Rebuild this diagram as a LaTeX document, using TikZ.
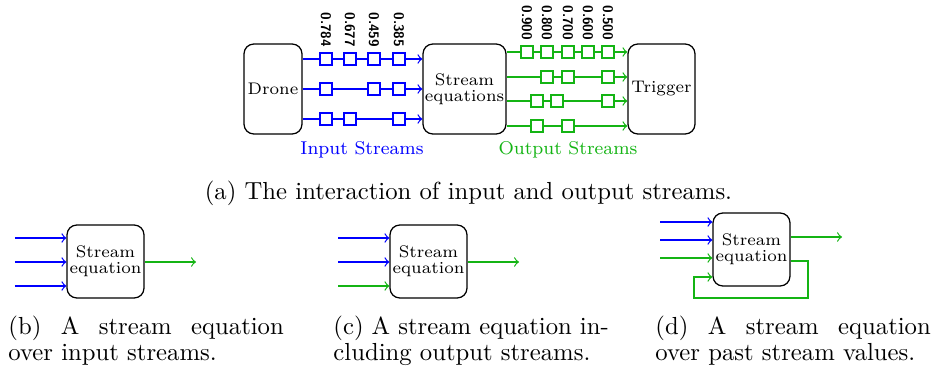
\documentclass[tikz,border=0pt]{standalone}
\usetikzlibrary{calc}
\definecolor{ig}{RGB}{20,180,20}
\definecolor{ib}{RGB}{0,0,255}
\begin{document}
\begin{tikzpicture}[x=0.405pt,y=-0.405pt,
 box/.style={draw,rounded corners=4pt,line width=0.5pt,inner sep=0pt,align=center,font=\fontsize{6.8}{6.5}\selectfont},
 bigbox/.style={box,minimum height={90*0.405pt}},
 smallbox/.style={box,minimum width={77*0.405pt},minimum height={73*0.405pt}},
 sq/.style={draw,fill=white,minimum size={12*0.405pt},inner sep=0pt,line width=0.5pt},
 bsq/.style={sq,draw=ib},
 gsq/.style={sq,draw=ig},
 bl/.style={ib,line width=0.5pt,->},
 gr/.style={ig,line width=0.5pt,->},
 val/.style={rotate=-90,anchor=west,inner sep=0pt,font=\fontsize{5.6}{6.5}\selectfont\sffamily\bfseries},
 lab/.style={anchor=base,inner sep=0pt,font=\fontsize{7.5}{9}\selectfont},
 captext/.style={anchor=base west,inner sep=0pt,font=\normalsize}]

\useasboundingbox (0,0) rectangle (934,373);

% ---------- (a) ----------
\node[bigbox,minimum width={58*0.405pt}] (drone) at (273,89) {Drone};
\node[bigbox,minimum width={83*0.405pt}] (seq) at (464.5,89) {Stream\\equations};
\node[bigbox,minimum width={67*0.405pt}] (trig) at (661.5,89) {Trigger};

\foreach \n/\y in {1/59,2/89,3/119} \coordinate (i\n) at (0,\y);
\foreach \n/\y in {1/52,2/77,3/101,4/126} \coordinate (o\n) at (0,\y);

\foreach \n in {1,2,3} \draw[bl] (drone.east |- i\n) -- (seq.west |- i\n);
\foreach \n in {1,2,3,4} \draw[gr] (seq.east |- o\n) -- (trig.west |- o\n);

\foreach \x in {326,350,374,399} \node[bsq] (sa\x) at (\x,59) {};
\foreach \x in {326,374,399} \node[bsq] (sb\x) at (\x,89) {};
\foreach \x in {326,350,399} \node[bsq] (sc\x) at (\x,119) {};

\foreach \x in {527,547,568,588,608} \node[gsq] (ta\x) at (\x,52) {};
\foreach \x in {547,568,608} \node[gsq] (tb\x) at (\x,77) {};
\foreach \x in {537,557,608} \node[gsq] (tc\x) at (\x,101) {};
\foreach \x in {537,568} \node[gsq] (td\x) at (\x,126) {};

\node[val] (v1) at (326,12) {0.784};
\node[val] (v2) at (350,12) {0.677};
\node[val] (v3) at (374,12) {0.459};
\node[val] (v4) at (399,12) {0.385};

\node[val] (w1) at (527,5) {0.900};
\node[val] (w2) at (547,5) {0.800};
\node[val] (w3) at (568,5) {0.700};
\node[val] (w4) at (588,5) {0.600};
\node[val] (w5) at (608,5) {0.500};

\node[lab,text=ib] (inl) at (362,155) {Input Streams};
\node[lab,text=ig] (outl) at (568,155) {Output Streams};

\node[anchor=base,inner sep=0pt] (capa) at (468.5,200) {(a) The interaction of input and output streams.};

% ---------- (b) ----------
\node[smallbox] (bbox) at (105.5,261.5) {Stream\\equation};
\foreach \n/\y in {1/238,2/262,3/286} \coordinate (bi\n) at (15,\y);
\foreach \n in {1,2,3} \draw[bl] (bi\n) -- (bbox.west |- bi\n);
\coordinate (bo) at (196,262);
\draw[gr] (bbox.east |- bo) -- (bo);
\node[captext] (capb1) at (8,335) {\hbox to 111.5pt{(b) A stream equation}};
\node[captext] (capb2) at (8,360) {over input streams.};

% ---------- (c) ----------
\node[smallbox] (cbox) at (428.5,261.5) {Stream\\equation};
\foreach \n/\y in {1/238,2/262,3/286} \coordinate (ci\n) at (338,\y);
\draw[bl] (ci1) -- (cbox.west |- ci1);
\draw[bl] (ci2) -- (cbox.west |- ci2);
\draw[gr] (ci3) -- (cbox.west |- ci3);
\coordinate (co) at (519,262);
\draw[gr] (cbox.east |- co) -- (co);
\node[captext] (capc1) at (333,335) {\hbox to 111.5pt{(c) A stream equation in-}};
\node[captext] (capc2) at (333,360) {cluding output streams.};

% ---------- (d) ----------
\node[smallbox] (dbox) at (751.5,249.5) {Stream\\equation};
\foreach \n/\y in {1/222,2/240,3/258} \coordinate (di\n) at (660,\y);
\draw[bl] (di1) -- (dbox.west |- di1);
\draw[bl] (di2) -- (dbox.west |- di2);
\draw[gr] (di3) -- (dbox.west |- di3);
\coordinate (do) at (842,237);
\draw[gr] (dbox.east |- do) -- (do);
\coordinate (dl0) at (0,261);
\coordinate (dl1) at (808,298);
\coordinate (dl2) at (694,298);
\coordinate (dl3) at (0,277);
\draw[gr] (dbox.east |- dl0) -| (dl1) -- (dl2) |- (dbox.west |- dl3);
\node[captext] (capd1) at (655,335) {\hbox to 111.5pt{(d) A stream equation}};
\node[captext] (capd2) at (655,360) {over past stream values.};
\end{tikzpicture}
\end{document}
